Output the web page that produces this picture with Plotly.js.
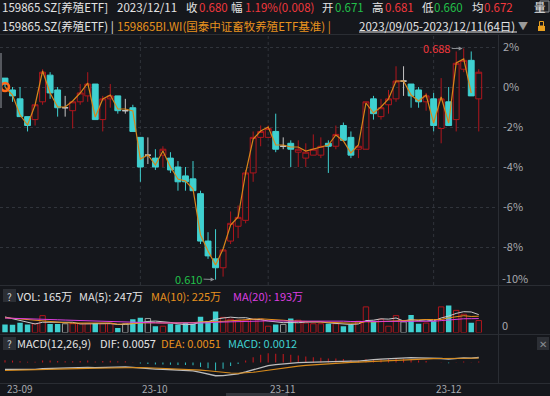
<!DOCTYPE html>
<html><head><meta charset="utf-8">
<script src="https://cdn.plot.ly/plotly-3.0.1.min.js"></script>
<style>html,body{margin:0;padding:0;background:#15171c;overflow:hidden}#chart{width:550px;height:396px}</style>
</head><body><div id="chart"></div>
<script>
const FONT = '"Noto Sans CJK SC", "Noto Sans", sans-serif';

const dates = [
 '2023-09-05','2023-09-06','2023-09-07','2023-09-08','2023-09-11','2023-09-12','2023-09-13','2023-09-14','2023-09-15','2023-09-18',
 '2023-09-19','2023-09-20','2023-09-21','2023-09-22','2023-09-25','2023-09-26','2023-09-27','2023-09-28','2023-10-09','2023-10-10',
 '2023-10-11','2023-10-12','2023-10-13','2023-10-16','2023-10-17','2023-10-18','2023-10-19','2023-10-20','2023-10-23','2023-10-24',
 '2023-10-25','2023-10-26','2023-10-27','2023-10-30','2023-10-31','2023-11-01','2023-11-02','2023-11-03','2023-11-06','2023-11-07',
 '2023-11-08','2023-11-09','2023-11-10','2023-11-13','2023-11-14','2023-11-15','2023-11-16','2023-11-17','2023-11-20','2023-11-21',
 '2023-11-22','2023-11-23','2023-11-24','2023-11-27','2023-11-28','2023-11-29','2023-11-30','2023-12-01','2023-12-04','2023-12-05',
 '2023-12-06','2023-12-07','2023-12-08','2023-12-11'];

const open = [
 0.678,0.674,0.671,0.665,0.664,0.670,0.679,0.674,0.668,0.667,
 0.670,0.672,0.676,0.664,0.671,0.672,0.667,0.668,0.658,0.652,
 0.651,0.652,0.651,0.648,0.645,0.644,0.639,0.623,0.617,0.614,
 0.623,0.628,0.630,0.646,0.658,0.658,0.660,0.655,0.656,0.653,
 0.651,0.652,0.652,0.656,0.655,0.662,0.658,0.654,0.654,0.671,
 0.665,0.669,0.671,0.677,0.676,0.674,0.670,0.671,0.661,0.670,
 0.664,0.681,0.684,0.671];
const high = [
 0.678,0.675,0.675,0.665,0.669,0.681,0.680,0.675,0.672,0.670,
 0.676,0.680,0.676,0.672,0.676,0.672,0.671,0.669,0.658,0.658,
 0.654,0.655,0.653,0.650,0.648,0.650,0.640,0.626,0.627,0.620,
 0.633,0.635,0.647,0.660,0.662,0.662,0.666,0.658,0.657,0.657,
 0.656,0.659,0.658,0.657,0.662,0.663,0.660,0.655,0.670,0.672,
 0.671,0.674,0.682,0.682,0.676,0.675,0.673,0.673,0.678,0.675,
 0.687,0.688,0.687,0.681];
const low = [
 0.675,0.670,0.665,0.660,0.662,0.669,0.671,0.665,0.665,0.661,
 0.669,0.670,0.664,0.660,0.668,0.666,0.666,0.660,0.643,0.649,
 0.647,0.648,0.646,0.640,0.640,0.640,0.622,0.617,0.610,0.611,
 0.622,0.624,0.629,0.643,0.655,0.658,0.653,0.654,0.648,0.648,
 0.648,0.652,0.651,0.646,0.654,0.657,0.651,0.651,0.654,0.664,
 0.664,0.666,0.670,0.672,0.668,0.668,0.667,0.660,0.656,0.662,
 0.660,0.680,0.672,0.660];
const close = [
 0.676,0.672,0.665,0.662,0.669,0.680,0.673,0.668,0.668,0.670,
 0.673,0.676,0.664,0.671,0.672,0.667,0.667,0.660,0.648,0.652,
 0.648,0.654,0.647,0.643,0.643,0.640,0.623,0.618,0.614,0.620,
 0.629,0.631,0.646,0.658,0.660,0.661,0.654,0.655,0.654,0.654,
 0.653,0.654,0.655,0.655,0.659,0.657,0.652,0.655,0.670,0.666,
 0.668,0.671,0.677,0.677,0.672,0.670,0.672,0.662,0.671,0.662,
 0.683,0.684,0.672,0.680];

// benchmark 159865BI.WI, % change vs base
const benchPct = [
 0.0,-0.4,-1.4,-1.9,-0.9,0.8,-0.3,-1.0,-1.0,-0.7,
 -0.3,0.2,-1.5,-0.6,-0.4,-1.1,-1.1,-1.2,-3.6,-3.4,
 -3.9,-3.2,-4.0,-4.6,-4.7,-5.1,-7.4,-8.2,-8.9,-8.1,
 -6.9,-6.5,-4.3,-2.6,-2.2,-2.0,-2.9,-2.9,-3.0,-3.0,
 -3.2,-3.1,-3.0,-2.9,-2.4,-2.7,-3.3,-2.9,-0.8,-1.3,
 -1.0,-0.6,0.3,0.3,-0.4,-0.7,-0.4,-1.8,-0.5,-1.8,
 1.2,1.4,-0.3,null];

// volume, 万
const vol = [
 112,107,136,112,121,233,116,116,121,121,
 121,121,131,121,121,63,121,184,204,194,
 87,87,121,112,131,121,218,160,291,209,
 184,170,170,184,184,87,112,112,194,170,
 131,121,121,121,121,87,107,155,354,146,
 184,87,233,146,243,121,131,155,354,374,
 306,252,136,165];
const volMA5 = [
 215,190,165,140,118,142,144,140,141,141,
 119,120,123,123,123,111,111,122,139,153,
 158,151,139,120,108,114,141,148,184,200,
 212,203,205,183,178,159,147,136,138,135,
 144,146,147,133,123,114,111,118,165,170,
 189,185,201,159,179,166,175,159,201,227,
 264,288,284,247];
const volMA10 = [
 205,195,185,175,165,160,150,142,135,130,
 130,132,131,132,132,115,116,123,131,138,
 135,131,130,129,130,136,146,144,152,154,
 163,172,177,184,189,186,175,170,161,157,
 151,147,142,135,129,129,129,133,149,146,
 152,148,160,162,174,178,180,180,180,203,
 215,232,222,225];
const volMA20 = [
 200,198,195,192,188,185,180,176,172,168,
 164,160,156,152,148,144,140,137,135,134,
 133,132,131,131,131,126,131,133,142,146,
 149,152,153,157,160,161,161,157,156,155,
 157,159,159,160,159,157,152,152,155,152,
 152,147,151,149,152,153,154,156,164,175,
 183,190,191,193];

const dif = [
 -0.0077,-0.0076,-0.0078,-0.0080,-0.0078,-0.0068,-0.0065,-0.0066,-0.0066,-0.0064,
 -0.0060,-0.0055,-0.0058,-0.0054,-0.0050,-0.0050,-0.0049,-0.0054,-0.0063,-0.0068,
 -0.0074,-0.0076,-0.0080,-0.0086,-0.0090,-0.0095,-0.0111,-0.0127,-0.0150,-0.0149,
 -0.0139,-0.0129,-0.0107,-0.0080,-0.0055,-0.0034,-0.0023,-0.0013,-0.0006,-0.0001,
 0.0002,0.0005,0.0009,0.0011,0.0016,0.0018,0.0016,0.0016,0.0028,0.0033,
 0.0038,0.0043,0.0051,0.0056,0.0056,0.0054,0.0053,0.0045,0.0046,0.0039,
 0.0048,0.0054,0.0050,0.0057];
const dea = [
 -0.0090,-0.0087,-0.0085,-0.0084,-0.0083,-0.0080,-0.0077,-0.0075,-0.0073,-0.0071,
 -0.0069,-0.0066,-0.0065,-0.0063,-0.0060,-0.0058,-0.0056,-0.0056,-0.0057,-0.0059,
 -0.0062,-0.0065,-0.0068,-0.0072,-0.0075,-0.0079,-0.0086,-0.0094,-0.0105,-0.0114,
 -0.0119,-0.0121,-0.0118,-0.0111,-0.0099,-0.0086,-0.0074,-0.0062,-0.0050,-0.0041,
 -0.0032,-0.0025,-0.0018,-0.0012,-0.0007,-0.0002,0.0002,0.0005,0.0009,0.0014,
 0.0019,0.0024,0.0029,0.0035,0.0039,0.0042,0.0044,0.0044,0.0045,0.0044,
 0.0046,0.0048,0.0049,0.0051];
const macdHist = [
 0.0026,0.0022,0.0015,0.0009,0.0010,0.0024,0.0024,0.0018,0.0014,0.0014,
 0.0018,0.0022,0.0013,0.0017,0.0020,0.0016,0.0014,0.0004,-0.0012,-0.0017,
 -0.0023,-0.0022,-0.0024,-0.0029,-0.0029,-0.0032,-0.0051,-0.0066,-0.0090,-0.0070,
 -0.0040,-0.0016,0.0022,0.0061,0.0089,0.0105,0.0101,0.0097,0.0089,0.0079,
 0.0068,0.0059,0.0054,0.0046,0.0045,0.0039,0.0028,0.0023,0.0037,0.0038,
 0.0038,0.0039,0.0044,0.0043,0.0034,0.0024,0.0018,0.0001,0.0003,-0.0009,
 0.0004,0.0012,0.0002,0.0012];

const basePrice = 0.675;
const avgPrice = 0.672;
const pctTicks = [2,0,-2,-4,-6,-8];
const monthStarts = ['2023-09-05','2023-10-09','2023-11-01','2023-12-01'];
const monthLabels = ['23-09','23-10','23-11','23-12'];

// ---------- geometry ----------
const W=550,H=396,ML=0,MR=52,MT=36,MB=12;
const PW=W-ML-MR, PH=H-MT-MB;
const px2x = x => (x-ML)/PW;
const px2y = y => (H-MB-y)/PH;

const C = {bg:'#15171c', red:'#b0161d', redTxt:'#f0383c', cyan:'#3fd0d0', green:'#22c04a',
  white:'#e4e4e4', gray:'#a6a9ae', orange:'#e8921e', bench:'#d8861a', magenta:'#dd3ee0', grid:'#30343b', sep:'#2a2d33'};

const idx = dates.map((d,i)=>i);
const upI = idx.filter(i=>close[i]>open[i]);
const dnI = idx.filter(i=>close[i]<open[i]);
const flI = idx.filter(i=>close[i]===open[i]);
const pick = (arr,ii)=>ii.map(i=>arr[i]);

function candle(ii, lineColor, fill){
  return {type:'candlestick', x:pick(dates,ii), open:pick(open,ii), high:pick(high,ii), low:pick(low,ii), close:pick(close,ii),
    xaxis:'x', yaxis:'y', whiskerwidth:0, hoverinfo:'skip', showlegend:false,
    increasing:{line:{color:lineColor,width:1},fillcolor:fill},
    decreasing:{line:{color:lineColor,width:1},fillcolor:fill}};
}
function volBars(ii, fill, line, lw){
  return {type:'bar', x:pick(dates,ii), y:pick(vol,ii), xaxis:'x', yaxis:'y2', width:0.72,
    marker:{color:fill, line:{color:line,width:lw}}, hoverinfo:'skip', showlegend:false};
}
function line(y, yaxis, color, width){
  return {type:'scatter', mode:'lines', x:dates, y, xaxis:'x', yaxis, line:{color, width}, hoverinfo:'skip', showlegend:false};
}

const benchPrice = benchPct.map(p => p===null ? null : basePrice*(1+p/100));

const traces = [
  candle(upI, C.red, 'rgba(0,0,0,0)'),
  candle(dnI, C.cyan, C.cyan),
  candle(flI, '#c4c4c4', '#c4c4c4'),
  line(benchPrice, 'y', C.bench, 1.2),
  {type:'scatter', mode:'markers', x:[dates[0]], y:[benchPrice[0]], xaxis:'x', yaxis:'y',
   marker:{symbol:'circle-open', size:8, color:'#ff6a1a', line:{color:'#ff6a1a', width:2.6}}, hoverinfo:'skip', showlegend:false},
  volBars(upI, 'rgba(0,0,0,0)', C.red, 1),
  volBars(dnI, C.cyan, C.cyan, 0),
  volBars(flI, 'rgba(0,0,0,0)', '#9a9a9a', 1),
  line(volMA5, 'y2', '#c9c9c9', 1),
  line(volMA10, 'y2', C.orange, 1),
  line(volMA20, 'y2', C.magenta, 1),
  {type:'bar', x:dates, y:macdHist, xaxis:'x', yaxis:'y3', width:0.14,
   marker:{color:macdHist.map(v=>v>=0?'#c0181e':'#2fb6b8')}, hoverinfo:'skip', showlegend:false},
  line(dif, 'y3', '#bdbdbd', 1.3),
  line(dea, 'y3', '#d68a1c', 1.1)
];

// ---------- annotations ----------
function lbl(text,x,y,color,size,anchor){
  return {xref:'paper',yref:'paper',x:px2x(x),y:px2y(y),text,showarrow:false,xanchor:anchor||'left',yanchor:'middle',
    borderpad:0,borderwidth:0,font:{family:FONT,size:size||11,color}};
}
const n = dates.length-1;
const chg = close[n]-close[n-1];
const chgPct = chg/close[n-1]*100;
const ann = [
  lbl('159865.SZ[养殖ETF]',2,7,C.white,11.5),
  lbl(dates[n].replace(/-/g,'/'),117,7,C.white,11.5),
  lbl('收',186,7,C.white,11.5), lbl(close[n].toFixed(3),199,7,C.redTxt,11.5),
  lbl('幅',231,7,C.white,11.5), lbl(chgPct.toFixed(2)+'%('+chg.toFixed(3)+')',245,7,C.redTxt,11.5),
  lbl('开',322,7,C.white,11.5), lbl(open[n].toFixed(3),335,7,C.green,11.5),
  lbl('高',372,7,C.white,11.5), lbl(high[n].toFixed(3),385,7,C.redTxt,11.5),
  lbl('低',422,7,C.white,11.5), lbl(low[n].toFixed(3),434,7,C.green,11.5),
  lbl('均',472,7,C.white,11.5), lbl(avgPrice.toFixed(3),484,7,C.redTxt,11.5),
  lbl('量',534,7,C.white,11.5),
  lbl('159865.SZ(养殖ETF) |',2,26,C.white,11.5),
  lbl('159865BI.WI(国泰中证畜牧养殖ETF基准) |',117,26,C.orange,11.5),
  lbl(dates[0].replace(/-/g,'/')+'-'+dates[n].replace(/-/g,'/')+'('+dates.length+'日)',359,26,C.white,11.5),
  lbl('▼',518,25,'#9a9a9a',10),
  lbl('-10%',502,278,C.gray,11),
  lbl('0',502,325,C.gray,11),
  lbl('?',9.5,296,'#cfcfcf',10,'center'),
  lbl('VOL: '+vol[n]+'万',17,296,C.white,11),
  lbl('MA(5): '+volMA5[n]+'万',79,296,C.white,11),
  lbl('MA(10): '+volMA10[n]+'万',151,296,C.orange,11),
  lbl('MA(20): '+volMA20[n]+'万',233,296,C.magenta,11),
  lbl('?',9.5,343.5,'#cfcfcf',10,'center'),
  lbl('MACD(12,26,9)',17,343,C.white,11),
  lbl('DIF: '+dif[n].toFixed(4),100,343,C.white,11),
  lbl('DEA: '+dea[n].toFixed(4),161,343,C.orange,11),
  lbl('MACD: '+macdHist[n].toFixed(4),228,343,C.cyan,11),
  lbl('✕',543,343.5,'#8a8d92',10,'center')
];
monthStarts.forEach((m,k)=>{
  ann.push({xref:'x',yref:'paper',x:dates.indexOf(m),y:px2y(388.5),text:monthLabels[k],showarrow:false,
    xanchor:'left',yanchor:'middle',xshift:2,borderpad:0,borderwidth:0,font:{family:FONT,size:10,color:C.gray}});
});
// extreme markers
const hiVal = Math.max(...high), hiIdx = high.indexOf(hiVal);
const loVal = Math.min(...low), loIdx = low.indexOf(loVal);
ann.push({xref:'x',yref:'y',x:hiIdx,y:hiVal,text:hiVal.toFixed(3),showarrow:true,ax:-27,ay:0,
  arrowcolor:'#8a8d92',arrowwidth:1,arrowhead:2,arrowsize:0.8,standoff:1,font:{family:FONT,size:11,color:C.redTxt}});
ann.push({xref:'x',yref:'y',x:loIdx,y:loVal,text:loVal.toFixed(3),showarrow:true,ax:-27,ay:-1,
  arrowcolor:'#8a8d92',arrowwidth:1,arrowhead:2,arrowsize:0.8,standoff:1,font:{family:FONT,size:11,color:C.green}});

// ---------- shapes ----------
function hl(y,x0,x1,color){return {type:'line',xref:'paper',yref:'paper',x0:px2x(x0),x1:px2x(x1),y0:px2y(y),y1:px2y(y),line:{color,width:1},layer:'below'};}
function vl(x,y0,y1,color){return {type:'line',xref:'paper',yref:'paper',x0:px2x(x),x1:px2x(x),y0:px2y(y0),y1:px2y(y1),line:{color,width:1}};}
function rect(x0,y0,x1,y1,fill,lc){return {type:'rect',xref:'paper',yref:'paper',x0:px2x(x0),x1:px2x(x1),y0:px2y(y1),y1:px2y(y0),fillcolor:fill,line:{color:lc||'rgba(0,0,0,0)',width:lc?1:0}};}
const shapes = [
  hl(34.5,0,550,C.sep),
  hl(285.5,0,550,C.sep),
  hl(334.5,0,550,C.sep),
  hl(383.5,0,550,C.sep),
  vl(498.5,35,384,C.sep),
  rect(3,289,16,302,'#2c2f35'),
  rect(3,337,16,350,'#2c2f35'),
  rect(537,337,549,350,'#2c2f35'),
  hl(32,359,517,C.white),
  rect(538,26,545,31,'#e8a020'),
  rect(539.5,21.5,543.5,26,'rgba(0,0,0,0)','#e8a020'),
  rect(540,1,549,12,'#1d2025','#8a8d92'),
  rect(0,53,2,108,'#55585e'),
  rect(226,393,288,396,'#33363c')
];
monthStarts.slice(1).forEach(m=>{
  const i = dates.indexOf(m);
  shapes.push({type:'line',xref:'x',yref:'paper',x0:i,x1:i,y0:px2y(285),y1:1,line:{color:C.grid,width:1,dash:'dot'},layer:'below'});
});

const layout = {
  width:W, height:H, margin:{l:ML,r:MR,t:MT,b:MB,pad:0},
  paper_bgcolor:C.bg, plot_bgcolor:C.bg, showlegend:false,
  font:{family:FONT,size:11,color:C.gray},
  barmode:'overlay', boxmode:'overlay', boxgap:0.22, boxgroupgap:0,
  xaxis:{type:'category', categoryorder:'array', categoryarray:dates, range:[-0.665,65.56],
    showticklabels:false, showgrid:false, zeroline:false, showline:false, ticks:'', anchor:'y3',
    rangeslider:{visible:false}, fixedrange:true},
  yaxis:{domain:[px2y(285),1], range:[basePrice*(1-9.9/100), basePrice*(1+2.55/100)], side:'right',
    tickvals:pctTicks.map(p=>basePrice*(1+p/100)), ticktext:pctTicks.map(p=>p+'%'),
    tickfont:{family:FONT,size:11,color:C.gray}, ticks:'', ticklabelstandoff:4,
    showgrid:true, gridcolor:C.grid, griddash:'dot', gridwidth:1, zeroline:false, showline:false, fixedrange:true},
  yaxis2:{domain:[px2y(332.5),px2y(303)], range:[0,408], showticklabels:false, showgrid:false, zeroline:false, showline:false, fixedrange:true},
  yaxis3:{domain:[px2y(382),px2y(351)], range:[-0.0221,0.0131], showticklabels:false, showgrid:false, zeroline:false, showline:false, fixedrange:true},
  annotations:ann, shapes
};

Plotly.newPlot('chart', traces, layout, {staticPlot:true, displayModeBar:false});
</script>
</body></html>
